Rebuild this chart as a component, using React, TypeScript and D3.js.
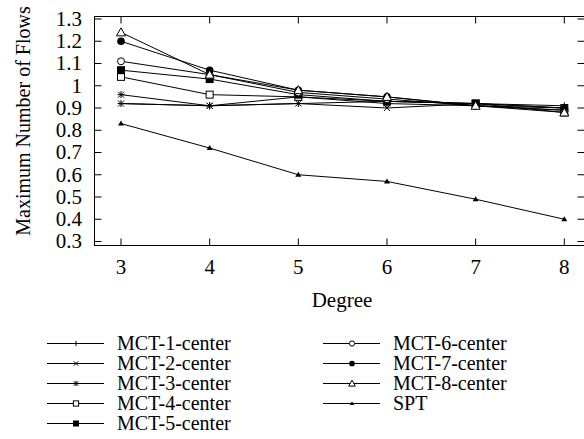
import * as d3 from 'd3';

const degrees = [3, 4, 5, 6, 7, 8];
const seriesNames = [
  'MCT-1-center',
  'MCT-2-center',
  'MCT-3-center',
  'MCT-4-center',
  'MCT-5-center',
  'MCT-6-center',
  'MCT-7-center',
  'MCT-8-center',
  'SPT',
];
const mct1 = [0.92, 0.91, 0.92, 0.93, 0.92, 0.91];
const mct2 = [0.92, 0.91, 0.92, 0.9, 0.92, 0.9];
const mct3 = [0.96, 0.91, 0.95, 0.92, 0.91, 0.89];
const mct4 = [1.04, 0.96, 0.95, 0.93, 0.92, 0.9];
const mct5 = [1.07, 1.03, 0.96, 0.93, 0.92, 0.88];
const mct6 = [1.11, 1.05, 0.97, 0.94, 0.91, 0.89];
const mct7 = [1.2, 1.07, 0.98, 0.95, 0.91, 0.9];
const mct8 = [1.24, 1.05, 0.98, 0.95, 0.91, 0.88];
const spt = [0.83, 0.72, 0.6, 0.57, 0.49, 0.4];
const seriesValues = [mct1, mct2, mct3, mct4, mct5, mct6, mct7, mct8, spt];
const yTicks = [0.3, 0.4, 0.5, 0.6, 0.7, 0.8, 0.9, 1, 1.1, 1.2, 1.3];

const FONT =
  "'Liberation Serif', 'Times New Roman', Times, Tinos, 'Noto Serif', 'DejaVu Serif', 'Nimbus Roman', FreeSerif, serif";

function Marker({ kind, x, y, k = 1 }: { kind: number; x: number; y: number; k?: number }) {
  const s = 3.5 * k;
  const c = 3 * k;
  switch (kind) {
    case 0:
      return <path d={`M${x - s},${y}H${x + s}M${x},${y - s}V${y + s}`} stroke='black' strokeWidth={1} />;
    case 1:
      return (
        <path
          d={`M${x - c},${y - c}L${x + c},${y + c}M${x - c},${y + c}L${x + c},${y - c}`}
          stroke='black'
          strokeWidth={1}
        />
      );
    case 2:
      return (
        <path
          d={`M${x - c},${y - c}L${x + c},${y + c}M${x - c},${y + c}L${x + c},${y - c}M${x - s},${y}H${x + s}M${x},${y - s}V${y + s}`}
          stroke='black'
          strokeWidth={1}
        />
      );
    case 3:
      return <rect x={x - s} y={y - s} width={2 * s} height={2 * s} fill='white' stroke='black' />;
    case 4:
      return <rect x={x - 4 * k} y={y - 4 * k} width={8 * k} height={8 * k} fill='black' />;
    case 5:
      return <circle cx={x} cy={y} r={s} fill='white' stroke='black' />;
    case 6:
      return <circle cx={x} cy={y} r={3.8 * k} fill='black' />;
    case 7:
      return (
        <path
          d={`M${x},${y - 4.5 * k}L${x + 4.5 * k},${y + 3.5 * k}L${x - 4.5 * k},${y + 3.5 * k}Z`}
          fill='white'
          stroke='black'
        />
      );
    default:
      return <path d={`M${x},${y - 3 * k}L${x + 3 * k},${y + 2 * k}L${x - 3 * k},${y + 2 * k}Z`} fill='black' />;
  }
}

export default function App() {
  const width = 584;
  const height = 439;
  const left = 94.5;
  const right = 584.5;
  const top = 16.5;
  const bottom = 245.5;

  const x = d3.scaleLinear([3, 8], [121, 564.3]);
  const y = d3.scaleLinear([0.3, 1.3], [241.5, 19]);

  const line = d3
    .line<number>()
    .x((_, i) => x(degrees[i]))
    .y((d) => y(d));

  const legendRows = seriesNames.map((name, i) => {
    const col = i < 5 ? 0 : 1;
    const row = i < 5 ? i : i - 5;
    return { name, i, x0: col === 0 ? 47 : 323, ty: 343.5 + row * 20 };
  });

  const txt = { fontFamily: FONT, fontSize: '21px' };
  const legTxt = { fontFamily: FONT, fontSize: '20px' };

  return (
    <svg width={width} height={height} style={{ position: 'absolute', left: 0, top: 0, background: 'white' }}>
      <rect width={width} height={height} fill='white' />
      {/* frame */}
      <rect x={left} y={top} width={right - left} height={bottom - top} fill='none' stroke='black' strokeWidth={1} />
      {/* y ticks */}
      {yTicks.map((t) => (
        <g key={t}>
          <line x1={left} x2={left + 7} y1={y(t)} y2={y(t)} stroke='black' />
          <line x1={right - 7} x2={right} y1={y(t)} y2={y(t)} stroke='black' />
          <text x={82} y={y(t)} dy='0.33em' textAnchor='end' style={txt}>
            {d3.format('~g')(t)}
          </text>
        </g>
      ))}
      {/* x ticks */}
      {degrees.map((t) => (
        <g key={t}>
          <line x1={x(t)} x2={x(t)} y1={bottom} y2={bottom - 7} stroke='black' />
          <line x1={x(t)} x2={x(t)} y1={top} y2={top + 7} stroke='black' />
          <text x={x(t)} y={267} dy='0.33em' textAnchor='middle' style={txt}>
            {t}
          </text>
        </g>
      ))}
      <text x={342} y={300} dy='0.33em' textAnchor='middle' style={txt}>
        Degree
      </text>
      <text
        transform={`translate(23,${(top + bottom) / 2 - 10}) rotate(-90)`}
        textAnchor='middle'
        dy='0.33em'
        style={{ fontFamily: FONT, fontSize: '20px' }}
      >
        Maximum Number of Flows
      </text>
      {/* series */}
      {seriesValues.map((vals, si) => (
        <g key={si}>
          <path d={line(vals) ?? ''} fill='none' stroke='black' strokeWidth={1} />
          {vals.map((v, j) => (
            <Marker key={j} kind={si} x={x(degrees[j])} y={y(v)} />
          ))}
        </g>
      ))}
      {/* legend */}
      {legendRows.map((r) => (
        <g key={r.name}>
          <line x1={r.x0} x2={r.x0 + 57} y1={r.ty} y2={r.ty} stroke='black' />
          <Marker kind={r.i} x={r.x0 + 29} y={r.ty} k={0.75} />
          <text x={r.x0 + 70} y={r.ty} dy='0.33em' style={legTxt}>
            {r.name}
          </text>
        </g>
      ))}
    </svg>
  );
}
